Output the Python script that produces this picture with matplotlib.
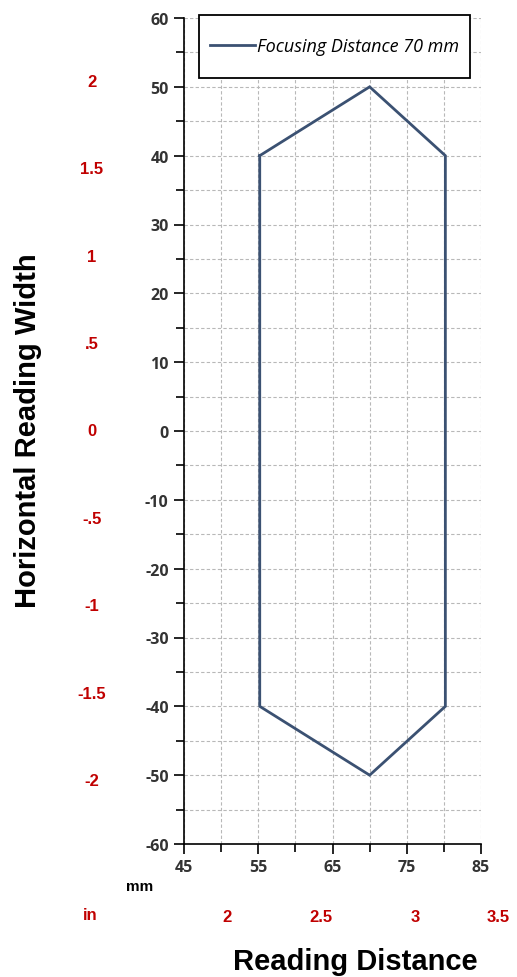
import matplotlib
matplotlib.use("Agg")
import matplotlib.pyplot as plt
from matplotlib.ticker import FixedLocator, MultipleLocator
from matplotlib.patches import Rectangle
import matplotlib.transforms as mtransforms

plt.rcParams["axes.unicode_minus"] = False

# Data
reading_distance_mm = [55.2, 70, 80.2, 80.2, 70, 55.2, 55.2]
reading_width_mm = [40, 50, 40, -40, -50, -40, 40]
series_label = "Focusing Distance 70 mm"

x_major_ticks = [45, 55, 65, 75, 85]
x_minor_ticks = [50, 60, 70, 80]

y_inch_labels = ["2", "1.5", "1", ".5", "0", "-.5", "-1", "-1.5", "-2"]
y_inch_values = [2, 1.5, 1, 0.5, 0, -0.5, -1, -1.5, -2]
x_inch_labels = ["2", "2.5", "3", "3.5"]
x_inch_values = [2, 2.5, 3, 3.5]

W, H = 517, 978
fig = plt.figure(figsize=(W/100, H/100), dpi=100)
ax = fig.add_axes([184/W, 1-845/H, (481-184)/W, (845-19)/H])

ax.plot(reading_distance_mm, reading_width_mm, color="#3B5172", lw=2.0,
        label=series_label, solid_joinstyle="miter")

ax.set_xlim(45, 85)
ax.set_ylim(-60, 60)
ax.xaxis.set_major_locator(FixedLocator(x_major_ticks))
ax.xaxis.set_minor_locator(FixedLocator(x_minor_ticks))
ax.yaxis.set_major_locator(MultipleLocator(10))
ax.yaxis.set_minor_locator(MultipleLocator(5))
ax.grid(True, which="both", color="#B8B8B8", ls=(0, (3, 2)), lw=0.8)
ax.set_axisbelow(True)

for s in ["top", "right"]:
    ax.spines[s].set_visible(False)
for s in ["left", "bottom"]:
    ax.spines[s].set_color("black")
    ax.spines[s].set_linewidth(1.2)

ax.tick_params(which="major", direction="out", length=7, width=1.2, color="black",
               labelsize=11.5, labelcolor="#333333", pad=4)
ax.tick_params(which="minor", direction="out", length=6, width=1.2, color="black")
for lab in ax.get_xticklabels() + ax.get_yticklabels():
    lab.set_fontfamily("Open Sans")
    lab.set_fontweight("bold")

# legend frame drawn as a box, legend content centred inside
bx0, by0, bx1, by1 = 199, 16, 470, 79
box = Rectangle((bx0/W, 1-by1/H), (bx1-bx0)/W, (by1-by0)/H,
                transform=fig.transFigure, facecolor="white",
                edgecolor="black", lw=1.3, zorder=5, clip_on=False)
ax.add_patch(box)
leg = ax.legend(loc="center", bbox_to_anchor=((bx0+bx1)/2/W, 1-(by0+by1)/2/H),
                bbox_transform=fig.transFigure, frameon=False,
                handlelength=2.5, handletextpad=0.1, borderpad=0,
                prop={"family": "Open Sans", "style": "italic", "size": 13})
leg.set_zorder(6)

red = "#C00000"
# left inch labels
trans_y = mtransforms.blended_transform_factory(fig.transFigure, ax.transData)
for lab, v in zip(y_inch_labels, y_inch_values):
    fig.text(92/W, v*25.4, lab, transform=trans_y, ha="center", va="center",
             color=red, fontsize=12, fontweight="bold", family="Liberation Sans")

# bottom inch labels
trans_x = mtransforms.blended_transform_factory(ax.transData, fig.transFigure)
for i, (lab, v) in enumerate(zip(x_inch_labels, x_inch_values)):
    ha = "right" if i == len(x_inch_labels) - 1 else "center"
    fig.text(v*25.4, 1-918/H, lab, transform=trans_x, ha=ha, va="center",
             color=red, fontsize=12, fontweight="bold", family="Liberation Sans")

fig.text(90/W, 1-916/H, "in", ha="center", va="center", color=red,
         fontsize=12, fontweight="bold", family="Liberation Sans")
fig.text(140/W, 1-887/H, "mm", ha="center", va="center", color="black",
         fontsize=11, fontweight="bold", family="Liberation Sans")

fig.text(28/W, 1-431/H, "Horizontal Reading Width", rotation=90, ha="center",
         va="center", fontsize=21, fontweight="bold", family="Liberation Sans")
fig.text(355/W, 1-962/H, "Reading Distance", ha="center", va="center",
         fontsize=21, fontweight="bold", family="Liberation Sans")

fig.savefig("out.png", dpi=100)
